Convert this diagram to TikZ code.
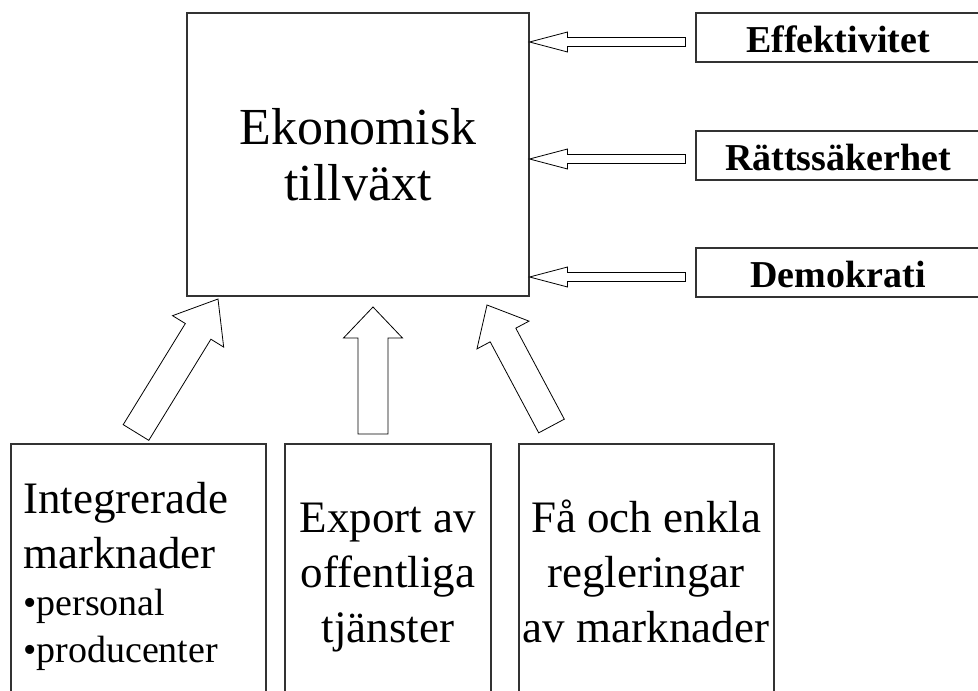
\documentclass[tikz,border=0pt]{standalone}
\usepackage{fontspec}
\setmainfont{Liberation Serif}
\usetikzlibrary{calc}
% #1 tail coordinate, #2 tip coordinate, #3 head length, #4 head half width, #5 shaft half width
\newcommand\blkarrow[5]{%
  \coordinate (bh) at ($(#2)!#3!(#1)$);
  \draw[blk] (#2) -- ($(bh)!#4!90:(#2)$) -- ($(bh)!#5!90:(#2)$) -- ($(#1)!#5!90:(#2)$)
    -- ($(#1)!#5!-90:(#2)$) -- ($(bh)!#5!-90:(#2)$) -- ($(bh)!#4!-90:(#2)$) -- cycle;
}
\begin{document}
\begin{tikzpicture}[x=1pt,y=-1pt,
  box/.style={draw=black!80, line width=1.1pt, rectangle, inner sep=0pt},
  blk/.style={draw=black, line width=0.8pt, fill=white, line join=miter},
  sidebox/.style={box, minimum width=284pt, minimum height=49pt,
     font=\fontsize{38}{42}\selectfont\bfseries, text height=31.5pt, text depth=2.5pt},
  bigtxt/.style={anchor=base, inner sep=0pt, font=\fontsize{52}{56}\selectfont},
  midtxt/.style={anchor=base, inner sep=0pt, font=\fontsize{45}{55}\selectfont},
  smalltxt/.style={anchor=base west, inner sep=0pt, font=\fontsize{38}{47}\selectfont}]
\useasboundingbox (0,0) rectangle (978,691);
\clip (0,0) rectangle (978,691);

% main box
\node[box, minimum width=342pt, minimum height=283pt] (eko) at (358,154.5) {};
\node[bigtxt] (eko1) at (358,144) {Ekonomisk};
\node[bigtxt] (eko2) at (358,200) {tillväxt};

% right boxes
\node[sidebox] (eff) at (838,37.5) {Effektivitet};
\node[sidebox] (rat) at (838,155.5) {Rättssäkerhet};
\node[sidebox] (dem) at (838,272.5) {Demokrati};

% bottom boxes
\node[box, minimum width=255pt, minimum height=260pt] (b1) at (138.5,574) {};
\node[box, minimum width=206pt, minimum height=260pt] (b2) at (388,574) {};
\node[box, minimum width=255pt, minimum height=260pt] (b3) at (646.5,574) {};

\node[midtxt, anchor=base west] (b1a) at (23,513) {Integrerade};
\node[midtxt, anchor=base west] (b1b) at (23,568) {marknader};
\node[smalltxt] (b1c) at (23,615) {•personal};
\node[smalltxt] (b1d) at (23,662) {•producenter};

\node[midtxt] (b2a) at (388,532) {Export av};
\node[midtxt] (b2b) at (388,587) {offentliga};
\node[midtxt] (b2c) at (388,642) {tjänster};

\node[midtxt] (b3a) at (646,532) {Få och enkla};
\node[midtxt] (b3b) at (646,587) {regleringar};
\node[midtxt] (b3c) at (646,642) {av marknader};

% horizontal block arrows
\coordinate (h1s) at ([xshift=-10pt,yshift=-4.5pt]eff.west);
\coordinate (h1e) at (eko.east |- h1s);
\coordinate (h2s) at ([xshift=-10pt,yshift=-3.5pt]rat.west);
\coordinate (h2e) at (eko.east |- h2s);
\coordinate (h3s) at ([xshift=-10pt,yshift=-4.5pt]dem.west);
\coordinate (h3e) at (eko.east |- h3s);
\blkarrow{h1s}{h1e}{38pt}{10pt}{4.5pt}
\blkarrow{h2s}{h2e}{38pt}{10pt}{4.5pt}
\blkarrow{h3s}{h3e}{38pt}{10pt}{4.5pt}

% bottom block arrows
\coordinate (v1s) at (136,432.5);
\coordinate (v1e) at (218,299);
\coordinate (v2s) at (373,434);
\coordinate (v2e) at (373,307);
\coordinate (v3s) at (551.5,426);
\coordinate (v3e) at (487,305);
\blkarrow{v1s}{v1e}{38pt}{30pt}{15pt}
\blkarrow{v2s}{v2e}{31pt}{29.5pt}{15pt}
\blkarrow{v3s}{v3e}{34pt}{29.5pt}{14.5pt}
\end{tikzpicture}
\end{document}
